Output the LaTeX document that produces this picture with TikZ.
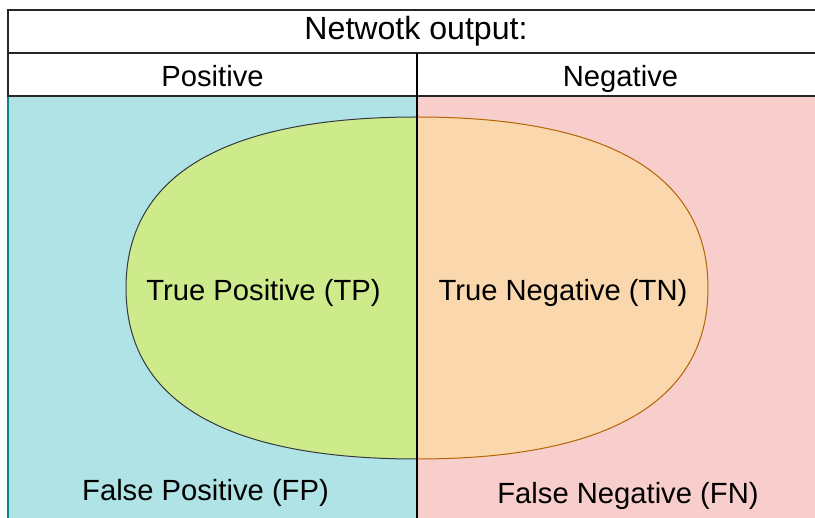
\documentclass[tikz,border=0pt]{standalone}
\usepackage{fontspec}
\setmainfont{Liberation Sans}
\definecolor{tealfill}{HTML}{B0E3E6}
\definecolor{tealline}{HTML}{0E8088}
\definecolor{pinkfill}{HTML}{F8CECC}
\definecolor{pinkline}{HTML}{B85450}
\definecolor{greenfill}{HTML}{CDEB8B}
\definecolor{greenline}{HTML}{36393D}
\definecolor{orangefill}{HTML}{FAD7AC}
\definecolor{orangeline}{HTML}{B46504}
\tikzset{
  cell/.style={draw=black!85, line width=1.4pt, fill=white},
  lbl/.style={inner sep=0pt, font=\fontsize{29.2}{34}\selectfont, text=black},
  ttl/.style={inner sep=0pt, font=\fontsize{32.1}{38}\selectfont, text=black},
  blobline/.style={line width=1pt}
}
\begin{document}
\begin{tikzpicture}[x=1pt,y=-1pt]
\useasboundingbox (0,0) rectangle (815,518);
\clip (0,0) rectangle (815,518);
% coloured regions
\draw[fill=tealfill, draw=tealline, line width=1.2pt] (8,96) rectangle (417,540);
\draw[fill=pinkfill, draw=pinkline, line width=1.2pt] (417,96) rectangle (826,540);
% blobs
\draw[blobline, fill=greenfill, draw=greenline]
  (417,117) .. controls (237,117) and (126,168) .. (126,288)
  .. controls (126,408) and (237,459) .. (417,459) -- cycle;
\draw[blobline, fill=orangefill, draw=orangeline]
  (417,117) .. controls (597,117) and (708,168) .. (708,288)
  .. controls (708,408) and (597,459) .. (417,459) -- cycle;
% header cells
\draw[cell] (8,10) rectangle (826,53);
\draw[cell] (8,53) rectangle (417,96);
\draw[cell] (417,53) rectangle (826,96);
% divider
\draw[black, line width=1.4pt] (417,53) -- (417,540);
% texts
\node[ttl] (title) at (416,31) {Netwotk output:};
\node[lbl, anchor=base] (pos) at (212.5,87) {Positive};
\node[lbl, anchor=base] (neg) at (620.5,87) {Negative};
\node[lbl] (tp) at (263.5,292.5) {True Positive (TP)};
\node[lbl] (tn) at (563,292.5) {True Negative (TN)};
\node[lbl] (fp) at (205.5,492.5) {False Positive (FP)};
\node[lbl] (fn) at (628,495.5) {False Negative (FN)};
\end{tikzpicture}
\end{document}
